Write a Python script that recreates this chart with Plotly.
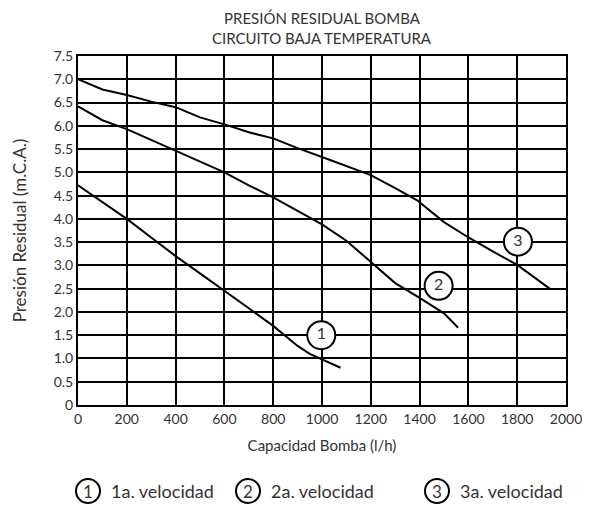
### Curvas de presión residual de la bomba (circuito baja temperatura) ###

import plotly.graph_objects as go

# Velocidad 1
caudal_v1 = [0, 100, 200, 300, 400, 500, 600, 700, 800, 850, 900, 950, 1000, 1076]
presion_v1 = [4.72, 4.36, 4.0, 3.6, 3.2, 2.83, 2.46, 2.08, 1.7, 1.48, 1.27, 1.1, 0.98, 0.8]

# Velocidad 2
caudal_v2 = [0, 100, 200, 300, 400, 500, 600, 700, 800, 900, 1000, 1100, 1200, 1300, 1400, 1500, 1558]
presion_v2 = [6.42, 6.12, 5.93, 5.7, 5.47, 5.24, 5.0, 4.72, 4.46, 4.17, 3.88, 3.53, 3.07, 2.62, 2.3, 1.97, 1.66]

# Velocidad 3
caudal_v3 = [0, 100, 200, 300, 400, 500, 600, 700, 800, 900, 1000, 1100, 1200, 1300, 1390, 1500, 1600, 1700, 1800, 1936]
presion_v3 = [7.0, 6.78, 6.66, 6.52, 6.4, 6.18, 6.03, 5.86, 5.73, 5.52, 5.33, 5.14, 4.94, 4.66, 4.4, 3.93, 3.6, 3.3, 3.01, 2.49]

# Etiquetas numeradas sobre cada curva
etiquetas = ["1", "2", "3"]
etiqueta_x = [997, 1478, 1803]
etiqueta_y = [1.5, 2.56, 3.51]

leyenda = ["1a. velocidad", "2a. velocidad", "3a. velocidad"]

y_ticks = [0, 0.5, 1, 1.5, 2, 2.5, 3, 3.5, 4, 4.5, 5, 5.5, 6, 6.5, 7, 7.5]
y_ticktext = ["0", "0.5", "1.0", "1.5", "2.0", "2.5", "3.0", "3.5", "4.0", "4.5",
              "5.0", "5.5", "6.0", "6.5", "7.0", "7.5"]

fuente = "Lato"
gris = "#333333"

fig = go.Figure()

for cx, cy in [(caudal_v1, presion_v1), (caudal_v2, presion_v2), (caudal_v3, presion_v3)]:
    fig.add_trace(go.Scatter(x=cx, y=cy, mode="lines",
                             line=dict(color="black", width=2),
                             showlegend=False, hoverinfo="skip"))

# Círculos con número
fig.add_trace(go.Scatter(x=etiqueta_x, y=etiqueta_y, mode="markers+text",
                         text=etiquetas, textposition="middle center",
                         textfont=dict(family=fuente, size=16, color=gris),
                         marker=dict(size=28, color="white",
                                     line=dict(color="black", width=2)),
                         showlegend=False, hoverinfo="skip", cliponaxis=False))

# Leyenda manual debajo del gráfico (el body de la página deja 8 px de margen)
ancho_plot = 488
pos_leyenda = [(88 - 78) / ancho_plot, (248 - 78) / ancho_plot, (437 - 78) / ancho_plot]
y_leyenda = -(491 - 405) / 349
for num, txt, xp in zip(etiquetas, leyenda, pos_leyenda):
    fig.add_shape(type="circle", xref="paper", yref="paper",
                  xsizemode="pixel", ysizemode="pixel",
                  xanchor=xp, yanchor=y_leyenda,
                  x0=-12, x1=12, y0=-12, y1=12,
                  line=dict(color="black", width=2), fillcolor="white")
    fig.add_annotation(x=xp, y=y_leyenda, xref="paper", yref="paper",
                       xanchor="center", yanchor="middle",
                       text=num, showarrow=False,
                       font=dict(family=fuente, size=17, color=gris))
    fig.add_annotation(x=xp, y=y_leyenda, xref="paper", yref="paper",
                       xshift=21, xanchor="left", yanchor="middle",
                       text=txt, showarrow=False,
                       font=dict(family=fuente, size=18, color=gris))

# Título en dos líneas
for linea, yy in [("PRESIÓN RESIDUAL BOMBA", 18), ("CIRCUITO BAJA TEMPERATURA", 38)]:
    fig.add_annotation(x=0.5, y=1 + (56 - yy) / 349, xref="paper", yref="paper",
                       text=linea, showarrow=False,
                       xanchor="center", yanchor="middle",
                       font=dict(family=fuente, size=15, color=gris))

fig.update_xaxes(range=[0, 2000], tickvals=list(range(0, 2001, 200)),
                 showgrid=True, gridcolor="black", gridwidth=2,
                 showline=True, linecolor="black", linewidth=2, mirror=True,
                 zeroline=False, ticks="", automargin=False,
                 tickfont=dict(family=fuente, size=14, color=gris),
                 title=dict(text="Capacidad Bomba (l/h)", standoff=15,
                            font=dict(family=fuente, size=15, color=gris)))
fig.update_yaxes(range=[0, 7.5], tickvals=y_ticks, ticktext=y_ticktext,
                 showgrid=True, gridcolor="black", gridwidth=2,
                 showline=True, linecolor="black", linewidth=2, mirror=True,
                 zeroline=False, ticks="", automargin=False,
                 tickfont=dict(family=fuente, size=14, color=gris),
                 title=dict(text="Presión Residual (m.C.A.)", standoff=23,
                            font=dict(family=fuente, size=17, color=gris)))

fig.update_layout(width=582, height=499,
                  margin=dict(l=70, r=24, t=48, b=102),
                  plot_bgcolor="white", paper_bgcolor="white",
                  showlegend=False)

fig.write_html("out.html")
